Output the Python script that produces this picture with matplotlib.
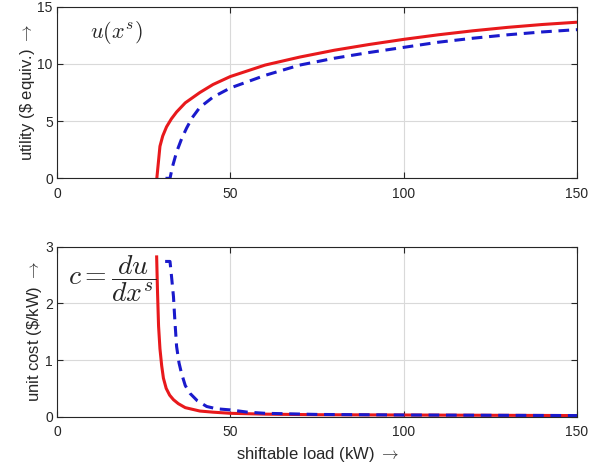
import numpy as np
import matplotlib.pyplot as plt

plt.rcParams['font.family'] = ['Liberation Sans', 'DejaVu Sans']
plt.rcParams['mathtext.fontset'] = 'cm'

# utility curves
x_u_red = [28.8, 29.7, 30.5, 31.6, 33.0, 34.5, 37.0, 41.2, 45.0, 50.0, 60.0, 70.0, 80.0, 90.0, 100.0, 110.0, 120.0, 130.0, 140.0, 150.0]
u_red = [0.0, 2.8, 3.7, 4.5, 5.2, 5.8, 6.6, 7.5, 8.2, 8.9, 9.9, 10.6, 11.2, 11.7, 12.15, 12.55, 12.9, 13.2, 13.45, 13.65]
x_u_blue = [31.3, 32.6, 33.3, 34.5, 36.0, 37.4, 39.0, 41.2, 45.0, 50.0, 60.0, 70.0, 80.0, 90.0, 100.0, 110.0, 120.0, 130.0, 140.0, 150.0]
u_blue = [0.0, 0.0, 1.0, 2.3, 3.5, 4.4, 5.3, 6.2, 7.1, 7.9, 9.0, 9.9, 10.5, 11.0, 11.45, 11.9, 12.25, 12.55, 12.8, 13.0]

# unit cost curves
x_c_red = [28.75, 29.0, 29.3, 29.7, 30.2, 30.7, 31.5, 32.5, 33.6, 35.0, 37.0, 41.2, 45.0, 50.0, 60.0, 75.0, 100.0, 125.0, 150.0]
c_red = [2.82, 2.2, 1.6, 1.2, 0.9, 0.68, 0.5, 0.38, 0.3, 0.23, 0.16, 0.1, 0.08, 0.06, 0.045, 0.035, 0.03, 0.025, 0.02]
x_c_blue = [31.2, 32.6, 33.0, 33.6, 34.0, 34.5, 35.2, 35.9, 37.0, 38.4, 40.5, 43.2, 46.0, 50.0, 55.0, 60.0, 75.0, 100.0, 125.0, 150.0]
c_blue = [2.74, 2.74, 2.5, 2.12, 1.7, 1.24, 0.95, 0.77, 0.55, 0.41, 0.28, 0.18, 0.14, 0.12, 0.08, 0.06, 0.04, 0.03, 0.025, 0.02]

x_ticks = [0, 50, 100, 150]

fig = plt.figure(figsize=(6.03, 4.70), dpi=100)
ax1 = fig.add_axes([0.0945, 0.6206, 0.8624, 0.365])
ax2 = fig.add_axes([0.0945, 0.1134, 0.8624, 0.3617])

for ax in (ax1, ax2):
    ax.set_xlim(0, 150)
    ax.set_xticks(x_ticks)
    ax.grid(True, color='#d9d9d9', lw=0.8)
    ax.set_axisbelow(True)
    ax.tick_params(direction='in', top=True, right=True, labelsize=10, colors='#262626', length=4, width=0.8)
    ax.tick_params(axis='x', pad=6)
    ax.tick_params(axis='y', pad=3)
    for s in ax.spines.values():
        s.set_color('#262626')
        s.set_linewidth(0.8)

ax1.plot(x_u_red, u_red, color='#e8191c', lw=2.2)
ax1.plot(x_u_blue, u_blue, color='#1a1acc', lw=2.2, ls=(0, (3.5, 2.2)))
ax1.set_ylim(0, 15)
ax1.set_yticks([0, 5, 10, 15])
ax1.set_ylabel(r'utility (\$ equiv.) $\rightarrow$', fontsize=12, color='#262626', labelpad=0)
ax1.text(0.063, 0.85, r'$u(x^s)$', transform=ax1.transAxes, fontsize=16, va='center', ha='left', color='#262626')

ax2.plot(x_c_red, c_red, color='#e8191c', lw=2.2)
ax2.plot(x_c_blue, c_blue, color='#1a1acc', lw=2.2, ls=(0, (3.5, 2.2)))
ax2.set_ylim(0, 3)
ax2.set_yticks([0, 1, 2, 3])
ax2.set_ylabel(r'unit cost (\$/kW) $\rightarrow$', fontsize=12, color='#262626', labelpad=0.5)
ax2.set_xlabel(r'shiftable load (kW) $\rightarrow$', fontsize=12, color='#262626', labelpad=4)
ax2.text(0.022, 0.81, r'$c = \dfrac{du}{dx^s}$', transform=ax2.transAxes, fontsize=20, va='center', ha='left', color='#262626')

fig.savefig('out.png', dpi=100)
